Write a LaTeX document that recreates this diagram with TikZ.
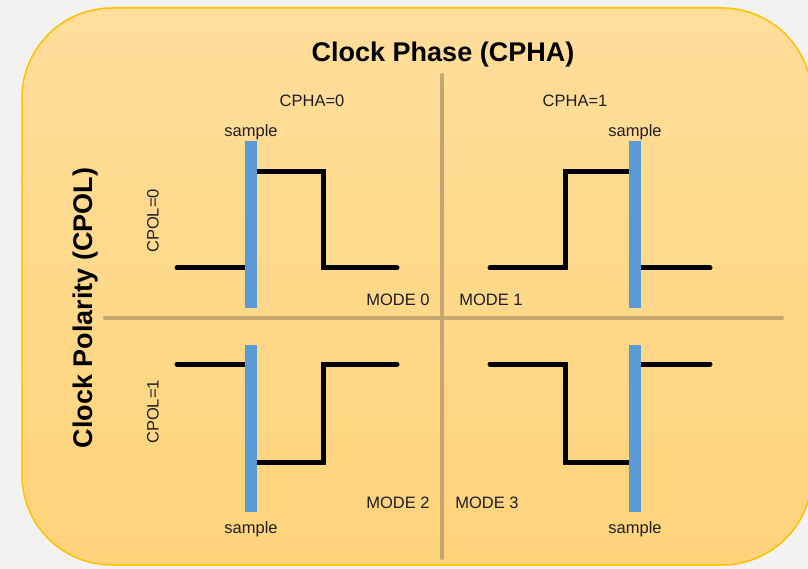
\documentclass[tikz,border=0pt]{standalone}
\usepackage{fontspec}
\setsansfont{Liberation Sans}
\usepackage{tikz}
\usetikzlibrary{positioning}

\definecolor{panelborder}{RGB}{255,192,0}
\definecolor{paneltop}{RGB}{255,222,154}
\definecolor{panelbottom}{RGB}{255,211,122}
\definecolor{divline}{RGB}{196,166,112}
\definecolor{samplebar}{RGB}{91,155,213}
\definecolor{pagebg}{RGB}{242,242,242}
\definecolor{inktext}{RGB}{30,30,40}

\begin{document}
\begin{tikzpicture}[x=1pt, y=-1pt,
    panel/.style={draw=panelborder, line width=1.5pt, top color=paneltop,
        bottom color=panelbottom, rounded corners=90pt},
    divider/.style={draw=divline, line width=4pt, line cap=round},
    wave/.style={draw=black, line width=5pt, line cap=round},
    bar/.style={rectangle, fill=samplebar, draw=none, inner sep=0pt,
        minimum width=12pt, minimum height=167pt},
    title/.style={font=\sffamily\bfseries\fontsize{27}{30}\selectfont, inner sep=0pt, text=black},
    lbl/.style={font=\sffamily\fontsize{16.5}{19}\selectfont, inner sep=0pt, text=inktext}
  ]
    % page and panel
    \useasboundingbox (0,0) rectangle (808,569);
    \clip (0,0) rectangle (808,569);
    \fill[pagebg] (0,0) rectangle (808,569);
    \path[panel] (22,8) rectangle (812,565);

    % quadrant dividers
    \draw[divider] (442,75) -- (442,558);
    \draw[divider] (105,318) -- (782,318);

    % titles
    \node[title] (cpha) at (443,55) {Clock Phase (CPHA)};
    \node[title, rotate=90] (cpol) at (86,308) {Clock Polarity (CPOL)};

    \node[lbl] (pha0) at (312,101) {CPHA=0};
    \node[lbl] (pha1) at (575,101) {CPHA=1};
    \node[lbl, rotate=90] (pol0) at (153,221) {CPOL=0};
    \node[lbl, rotate=90] (pol1) at (153,412) {CPOL=1};

    % clock waveforms
    \draw[wave] (177,268) -- (245,268);
    \draw[wave] (257,172) -- (323,172) -- (323,268) -- (397,268);
    \draw[wave] (490,268) -- (565,268) -- (565,172) -- (629,172);
    \draw[wave] (641,268) -- (710,268);
    \draw[wave] (177,364) -- (245,364);
    \draw[wave] (257,462) -- (323,462) -- (323,364) -- (397,364);
    \draw[wave] (490,364) -- (565,364) -- (565,462) -- (629,462);
    \draw[wave] (641,364) -- (710,364);

    % sample points
    \node[bar] (bar0) at (251,224.5) {};
    \node[bar] (bar1) at (635,224.5) {};
    \node[bar] (bar2) at (251,428.5) {};
    \node[bar] (bar3) at (635,428.5) {};

    \node[lbl, above=1pt of bar0] (smp0) {sample};
    \node[lbl, above=1pt of bar1] (smp1) {sample};
    \node[lbl, below=9pt of bar2] (smp2) {sample};
    \node[lbl, below=9pt of bar3] (smp3) {sample};

    % mode names
    \node[lbl] (mode0) at (398,300) {MODE 0};
    \node[lbl] (mode1) at (491,300) {MODE 1};
    \node[lbl] (mode2) at (398,503) {MODE 2};
    \node[lbl] (mode3) at (487,503) {MODE 3};
\end{tikzpicture}
\end{document}
